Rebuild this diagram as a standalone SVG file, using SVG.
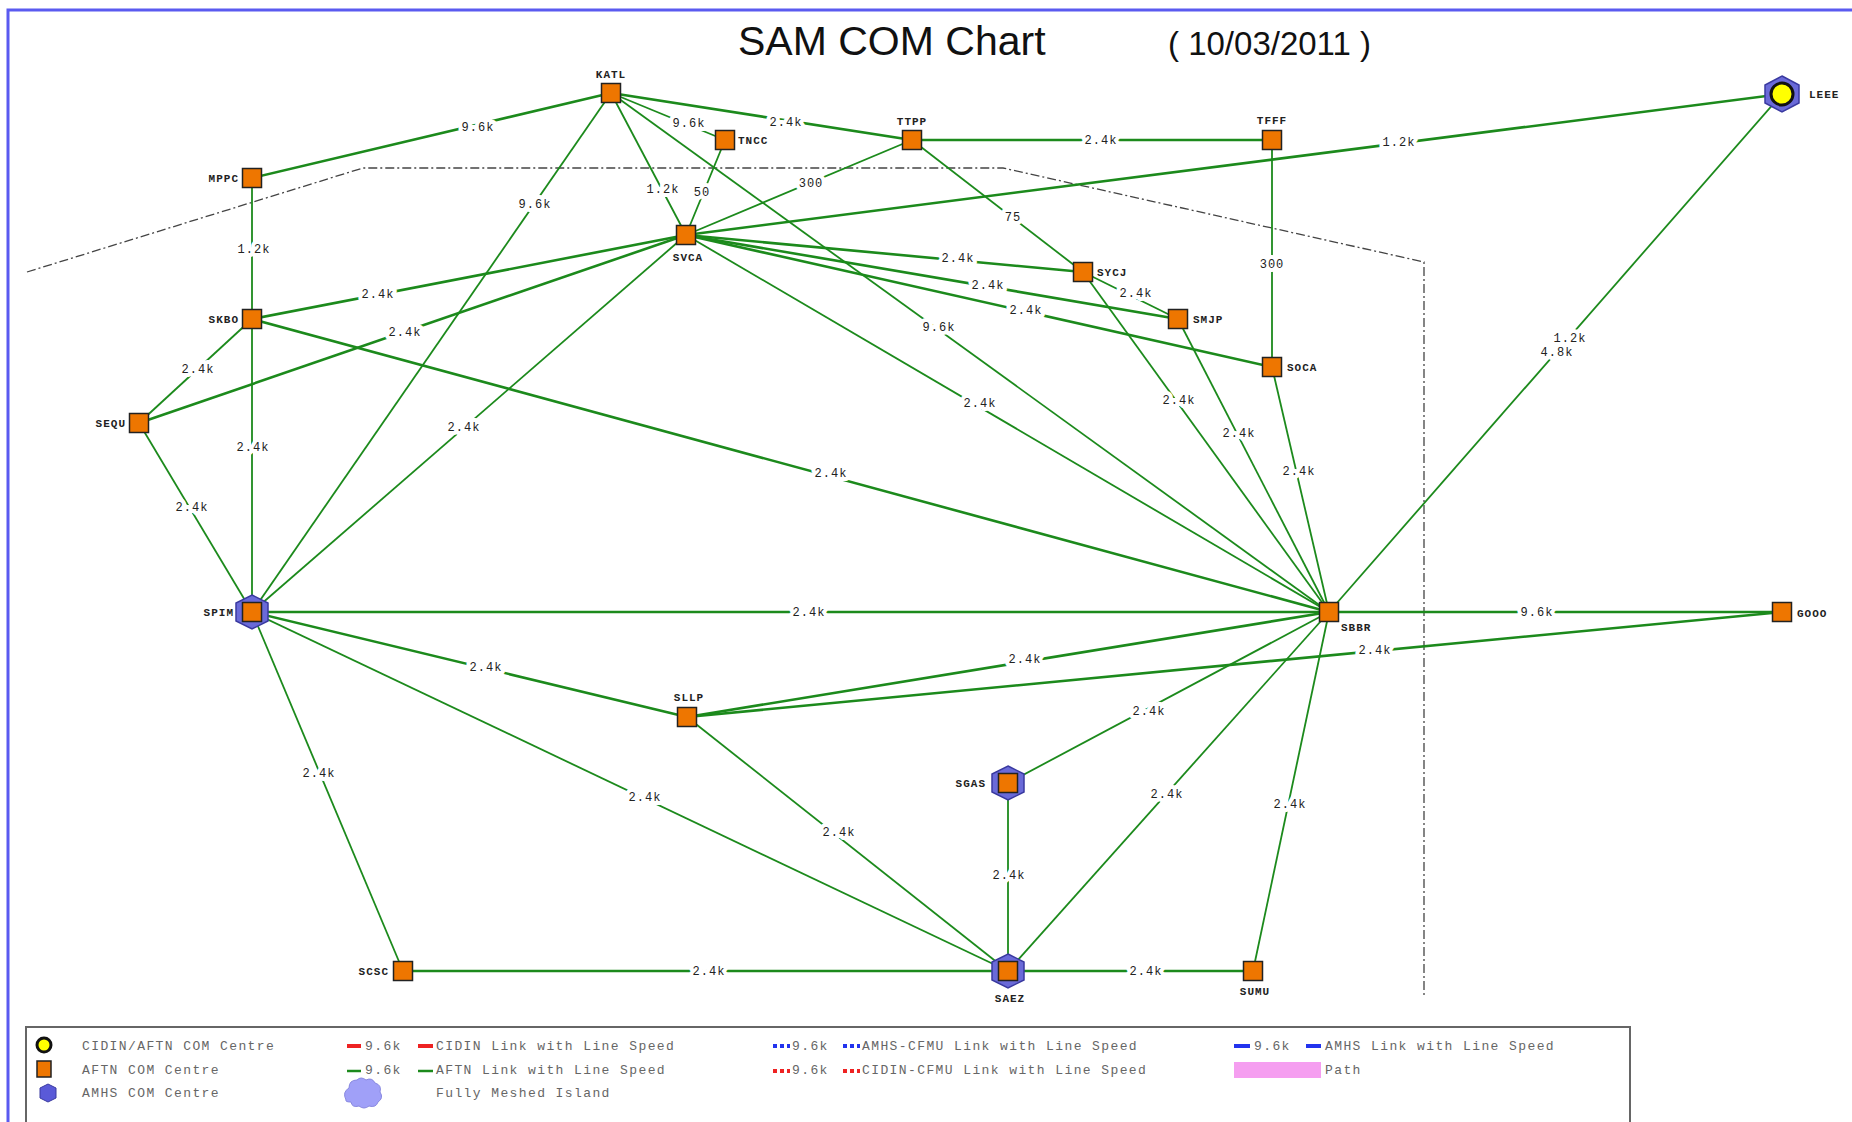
<svg xmlns="http://www.w3.org/2000/svg" width="1852" height="1122" viewBox="0 0 1852 1122">
<style>
.e{stroke:#1c8a1c;stroke-width:1.8;fill:none}
.et{stroke:#1c8a1c;stroke-width:2.6;fill:none}
.el{font-family:"Liberation Mono",monospace;font-size:12px;fill:#222;text-anchor:middle;paint-order:stroke;stroke:#fff;stroke-width:8px;stroke-linejoin:round;letter-spacing:1px}
.nl{font-family:"Liberation Mono",monospace;font-size:11px;font-weight:bold;fill:#222;letter-spacing:1px}
.sq{fill:#ee7600;stroke:#222;stroke-width:1.5}
.hx{fill:#6a6ad8;stroke:#3a3aa0;stroke-width:1.5}
.lt{font-family:"Liberation Mono",monospace;font-size:13px;fill:#666;letter-spacing:1.4px}
.dd{stroke:#444;stroke-width:1.3;fill:none;stroke-dasharray:9 3 2 3}
</style>
<defs>
<rect id="sq" class="sq" x="-9.5" y="-9.5" width="19" height="19"/>
<polygon id="hx" class="hx" points="0,-17 16,-9 16,9 0,17 -16,9 -16,-9"/>
</defs>
<rect width="1852" height="1122" fill="#fff"/>
<path d="M8,1122 V10 H1852" fill="none" stroke="#5a5af0" stroke-width="3"/>
<text x="738" y="55" font-family="Liberation Sans,Arial,sans-serif" font-size="41" fill="#111">SAM COM Chart</text>
<text x="1168" y="55" font-family="Liberation Sans,Arial,sans-serif" font-size="33" fill="#111">( 10/03/2011 )</text>
<path class="dd" d="M27,272 L363,168 L1003,168 L1424,262 L1424,998"/>

<g id="connectors">
<line class="et" x1="611" y1="93" x2="252" y2="178"/>
<line class="et" x1="611" y1="93" x2="912" y2="140"/>
<line class="e" x1="611" y1="93" x2="725" y2="140"/>
<line class="e" x1="611" y1="93" x2="686" y2="235"/>
<line class="e" x1="611" y1="93" x2="252" y2="612"/>
<line class="e" x1="611" y1="93" x2="1329" y2="612"/>
<line class="e" x1="725" y1="140" x2="686" y2="235"/>
<line class="e" x1="912" y1="140" x2="686" y2="235"/>
<line class="et" x1="912" y1="140" x2="1272" y2="140"/>
<line class="e" x1="912" y1="140" x2="1083" y2="272"/>
<line class="e" x1="1272" y1="140" x2="1272" y2="367"/>
<line class="et" x1="1782" y1="94" x2="686" y2="235"/>
<line class="e" x1="1782" y1="94" x2="1329" y2="612"/>
<line class="e" x1="252" y1="178" x2="252" y2="319"/>
<line class="et" x1="686" y1="235" x2="252" y2="319"/>
<line class="et" x1="686" y1="235" x2="139" y2="423"/>
<line class="e" x1="686" y1="235" x2="252" y2="612"/>
<line class="et" x1="686" y1="235" x2="1083" y2="272"/>
<line class="et" x1="686" y1="235" x2="1178" y2="319"/>
<line class="et" x1="686" y1="235" x2="1272" y2="367"/>
<line class="e" x1="686" y1="235" x2="1329" y2="612"/>
<line class="e" x1="1083" y1="272" x2="1178" y2="319"/>
<line class="e" x1="1083" y1="272" x2="1329" y2="612"/>
<line class="e" x1="1178" y1="319" x2="1329" y2="612"/>
<line class="e" x1="1272" y1="367" x2="1329" y2="612"/>
<line class="e" x1="252" y1="319" x2="139" y2="423"/>
<line class="e" x1="252" y1="319" x2="252" y2="612"/>
<line class="et" x1="252" y1="319" x2="1329" y2="612"/>
<line class="e" x1="139" y1="423" x2="252" y2="612"/>
<line class="et" x1="252" y1="612" x2="1329" y2="612"/>
<line class="et" x1="252" y1="612" x2="687" y2="717"/>
<line class="e" x1="252" y1="612" x2="1008" y2="971"/>
<line class="e" x1="252" y1="612" x2="403" y2="971"/>
<line class="et" x1="1329" y1="612" x2="1782" y2="612"/>
<line class="et" x1="687" y1="717" x2="1329" y2="612"/>
<line class="et" x1="687" y1="717" x2="1782" y2="612"/>
<line class="e" x1="687" y1="717" x2="1008" y2="971"/>
<line class="e" x1="1329" y1="612" x2="1008" y2="783"/>
<line class="e" x1="1329" y1="612" x2="1008" y2="971"/>
<line class="e" x1="1329" y1="612" x2="1253" y2="971"/>
<line class="e" x1="1008" y1="783" x2="1008" y2="971"/>
<line class="et" x1="403" y1="971" x2="1008" y2="971"/>
<line class="et" x1="1008" y1="971" x2="1253" y2="971"/>

<text class="el" x="478" y="131">9.6k</text>
<text class="el" x="786" y="126">2.4k</text>
<text class="el" x="689" y="127">9.6k</text>
<text class="el" x="663" y="193">1.2k</text>
<text class="el" x="535" y="208">9.6k</text>
<text class="el" x="939" y="331">9.6k</text>
<text class="el" x="702" y="196">50</text>
<text class="el" x="811" y="187">300</text>
<text class="el" x="1101" y="144">2.4k</text>
<text class="el" x="1013" y="221">75</text>
<text class="el" x="1272" y="268">300</text>
<text class="el" x="1399" y="146">1.2k</text>
<text class="el" x="1570" y="342">1.2k</text>
<text class="el" x="1557" y="356">4.8k</text>
<text class="el" x="254" y="253">1.2k</text>
<text class="el" x="378" y="298">2.4k</text>
<text class="el" x="405" y="336">2.4k</text>
<text class="el" x="464" y="431">2.4k</text>
<text class="el" x="958" y="262">2.4k</text>
<text class="el" x="988" y="289">2.4k</text>
<text class="el" x="1026" y="314">2.4k</text>
<text class="el" x="980" y="407">2.4k</text>
<text class="el" x="1136" y="297">2.4k</text>
<text class="el" x="1179" y="404">2.4k</text>
<text class="el" x="1239" y="437">2.4k</text>
<text class="el" x="1299" y="475">2.4k</text>
<text class="el" x="198" y="373">2.4k</text>
<text class="el" x="253" y="451">2.4k</text>
<text class="el" x="831" y="477">2.4k</text>
<text class="el" x="192" y="511">2.4k</text>
<text class="el" x="809" y="616">2.4k</text>
<text class="el" x="486" y="671">2.4k</text>
<text class="el" x="645" y="801">2.4k</text>
<text class="el" x="319" y="777">2.4k</text>
<text class="el" x="1537" y="616">9.6k</text>
<text class="el" x="1025" y="663">2.4k</text>
<text class="el" x="1375" y="654">2.4k</text>
<text class="el" x="839" y="836">2.4k</text>
<text class="el" x="1149" y="715">2.4k</text>
<text class="el" x="1167" y="798">2.4k</text>
<text class="el" x="1290" y="808">2.4k</text>
<text class="el" x="1009" y="879">2.4k</text>
<text class="el" x="709" y="975">2.4k</text>
<text class="el" x="1146" y="975">2.4k</text>
</g>

<g id="KATL"><use href="#sq" x="611" y="93"/><text class="nl" x="611" y="78" text-anchor="middle">KATL</text></g>
<g id="TNCC"><use href="#sq" x="725" y="140"/><text class="nl" x="738" y="144">TNCC</text></g>
<g id="TTPP"><use href="#sq" x="912" y="140"/><text class="nl" x="912" y="125" text-anchor="middle">TTPP</text></g>
<g id="TFFF"><use href="#sq" x="1272" y="140"/><text class="nl" x="1272" y="124" text-anchor="middle">TFFF</text></g>
<g id="LEEE"><polygon class="hx" points="1782,76 1799,85 1799,103 1782,112 1765,103 1765,85"/><circle cx="1782" cy="94" r="11" fill="#ffff00" stroke="#111" stroke-width="3"/><text class="nl" x="1809" y="98">LEEE</text></g>
<g id="MPPC"><use href="#sq" x="252" y="178"/><text class="nl" x="239" y="182" text-anchor="end">MPPC</text></g>
<g id="SVCA"><use href="#sq" x="686" y="235"/><text class="nl" x="688" y="261" text-anchor="middle">SVCA</text></g>
<g id="SYCJ"><use href="#sq" x="1083" y="272"/><text class="nl" x="1097" y="276">SYCJ</text></g>
<g id="SMJP"><use href="#sq" x="1178" y="319"/><text class="nl" x="1193" y="323">SMJP</text></g>
<g id="SOCA"><use href="#sq" x="1272" y="367"/><text class="nl" x="1287" y="371">SOCA</text></g>
<g id="SKBO"><use href="#sq" x="252" y="319"/><text class="nl" x="239" y="323" text-anchor="end">SKBO</text></g>
<g id="SEQU"><use href="#sq" x="139" y="423"/><text class="nl" x="126" y="427" text-anchor="end">SEQU</text></g>
<g id="SPIM"><use href="#hx" x="252" y="612"/><use href="#sq" x="252" y="612"/><text class="nl" x="234" y="616" text-anchor="end">SPIM</text></g>
<g id="SBBR"><use href="#sq" x="1329" y="612"/><text class="nl" x="1341" y="631">SBBR</text></g>
<g id="GOOO"><use href="#sq" x="1782" y="612"/><text class="nl" x="1797" y="617">GOOO</text></g>
<g id="SLLP"><use href="#sq" x="687" y="717"/><text class="nl" x="689" y="701" text-anchor="middle">SLLP</text></g>
<g id="SGAS"><use href="#hx" x="1008" y="783"/><use href="#sq" x="1008" y="783"/><text class="nl" x="986" y="787" text-anchor="end">SGAS</text></g>
<g id="SCSC"><use href="#sq" x="403" y="971"/><text class="nl" x="389" y="975" text-anchor="end">SCSC</text></g>
<g id="SAEZ"><use href="#hx" x="1008" y="971"/><use href="#sq" x="1008" y="971"/><text class="nl" x="1010" y="1002" text-anchor="middle">SAEZ</text></g>
<g id="SUMU"><use href="#sq" x="1253" y="971"/><text class="nl" x="1255" y="995" text-anchor="middle">SUMU</text></g>

<g id="legend">
<rect x="26" y="1027" width="1604" height="110" fill="#fff" stroke="#666" stroke-width="2"/>
<circle cx="44" cy="1045" r="7" fill="#ffff00" stroke="#111" stroke-width="3"/>
<rect x="37" y="1061" width="14" height="16" class="sq"/>
<polygon points="48,1084 56,1088 56,1098 48,1102 40,1098 40,1088" fill="#5a5ad8" stroke="#3a3aa0"/>
<text class="lt" x="82" y="1050">CIDIN/AFTN COM Centre</text>
<text class="lt" x="82" y="1074">AFTN COM Centre</text>
<text class="lt" x="82" y="1097">AMHS COM Centre</text>
<line x1="347" y1="1046" x2="361" y2="1046" stroke="#ee2222" stroke-width="4"/>
<text class="lt" x="365" y="1050">9.6k</text>
<line x1="418" y1="1046" x2="433" y2="1046" stroke="#ee2222" stroke-width="4"/>
<text class="lt" x="436" y="1050">CIDIN Link with Line Speed</text>
<line x1="347" y1="1071" x2="361" y2="1071" stroke="#1c8a1c" stroke-width="2.5"/>
<text class="lt" x="365" y="1074">9.6k</text>
<line x1="418" y1="1071" x2="433" y2="1071" stroke="#1c8a1c" stroke-width="2.5"/>
<text class="lt" x="436" y="1074">AFTN Link with Line Speed</text>
<path d="M346,1100 q-4,-8 3,-12 q0,-8 8,-8 q4,-4 9,0 q6,-3 9,3 q7,2 5,9 q4,6 -2,10 q-2,6 -9,4 q-5,4 -10,0 q-7,2 -8,-4 q-6,0 -5,-2z" fill="#a0a0f8" stroke="#8888e0"/>
<text class="lt" x="436" y="1097">Fully Meshed Island</text>
<line x1="773" y1="1046" x2="790" y2="1046" stroke="#2233ee" stroke-width="4" stroke-dasharray="4 3"/>
<text class="lt" x="792" y="1050">9.6k</text>
<line x1="843" y1="1046" x2="860" y2="1046" stroke="#2233ee" stroke-width="4" stroke-dasharray="4 3"/>
<text class="lt" x="862" y="1050">AMHS-CFMU Link with Line Speed</text>
<line x1="773" y1="1071" x2="790" y2="1071" stroke="#ee2222" stroke-width="4" stroke-dasharray="4 3"/>
<text class="lt" x="792" y="1074">9.6k</text>
<line x1="843" y1="1071" x2="860" y2="1071" stroke="#ee2222" stroke-width="4" stroke-dasharray="4 3"/>
<text class="lt" x="862" y="1074">CIDIN-CFMU Link with Line Speed</text>
<line x1="1234" y1="1046" x2="1250" y2="1046" stroke="#2233ee" stroke-width="4"/>
<text class="lt" x="1254" y="1050">9.6k</text>
<line x1="1306" y1="1046" x2="1321" y2="1046" stroke="#2233ee" stroke-width="4"/>
<text class="lt" x="1325" y="1050">AMHS Link with Line Speed</text>
<rect x="1234" y="1062" width="87" height="16" fill="#f59ef0"/>
<text class="lt" x="1325" y="1074">Path</text>
</g>
</svg>
